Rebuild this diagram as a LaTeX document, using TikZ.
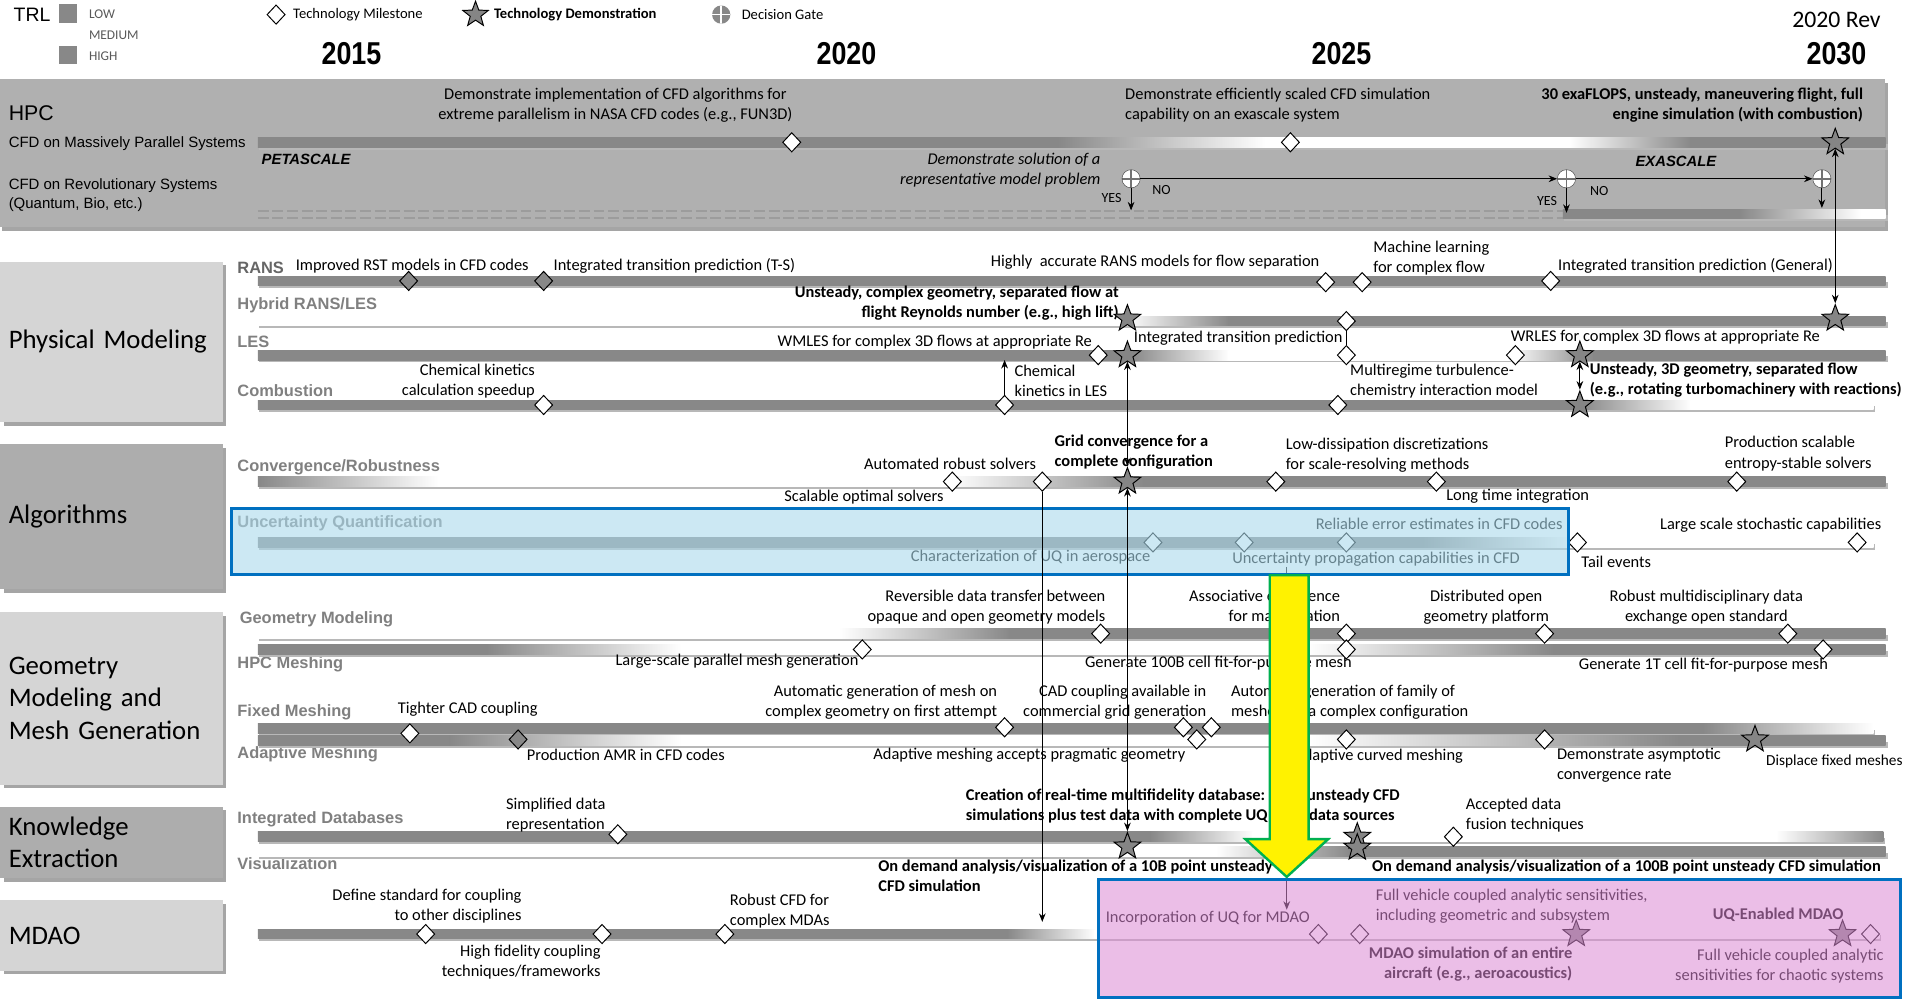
\documentclass[tikz,border=0pt]{standalone}
\usepackage{fontspec}
\setmainfont{Carlito}
\newfontfamily\arialfont{Liberation Sans}
\newfontfamily\yearfont[FakeStretch=0.85]{Liberation Sans}
\usetikzlibrary{shapes.geometric,shadows,arrows.meta,positioning}

\definecolor{bargray}{HTML}{888888}
\definecolor{hpcgray}{HTML}{B0B0B0}
\definecolor{catlight}{HTML}{D5D5D5}
\definecolor{catdark}{HTML}{ADADAD}
\definecolor{rowgray}{HTML}{808080}
\definecolor{stargray}{HTML}{858585}
\definecolor{dashgray}{HTML}{9C9C9C}
\definecolor{uqfill}{RGB}{170,217,235}
\definecolor{mdaofill}{RGB}{219,137,213}
\definecolor{frameblue}{HTML}{0070C0}
\definecolor{arrowgreen}{HTML}{00B050}

% track bar: y, x start, x end, segments x1/x2/colour1/colour2
\newcommand{\trackbar}[4]{%
  \fill[black!28] (#2+1,#1+1) rectangle (#3+2,#1+6);
  \foreach \xa/\xb/\ca/\cb in {#4}
    {\shade[left color=\ca, right color=\cb] (\xa,#1-4) rectangle (\xb+0.5,#1+4);}
}

\begin{document}
\begin{tikzpicture}[x=1pt, y=-1pt,
    ms/.style={diamond, draw, fill=white, line width=0.8pt, inner sep=0pt,
               minimum width=15, minimum height=16},
    msgray/.style={ms, fill=bargray},
    demo/.style={star, star points=5, star point ratio=2.4, draw, fill=stargray,
                 line width=0.8pt, inner sep=0pt, minimum size=23},
    gate/.style={circle, draw=black!70, fill=white, inner sep=0pt, minimum size=15,
                 path picture={\draw[black!55, line width=1.3pt]
                   (path picture bounding box.north) -- (path picture bounding box.south)
                   (path picture bounding box.west) -- (path picture bounding box.east);}},
    gatekey/.style={circle, fill=bargray, inner sep=0pt, minimum size=15,
                 path picture={\draw[white, line width=1.3pt]
                   (path picture bounding box.north) -- (path picture bounding box.south)
                   (path picture bounding box.west) -- (path picture bounding box.east);}},
    catbox/.style={rectangle, anchor=north west, minimum width=183, text width=169,
                   inner xsep=7pt, align=left, font=\fontsize{22}{26.5}\selectfont,
                   drop shadow={shadow xshift=3pt, shadow yshift=-3pt, fill=black!50, opacity=0.7}},
    rowlbl/.style={anchor=west, inner sep=0pt, text=rowgray,
                   font=\arialfont\bfseries\fontsize{13.5}{16}\selectfont},
    hpcsub/.style={anchor=west, inner sep=0pt, font=\arialfont\fontsize{12.3}{15}\selectfont},
    scale lbl/.style={inner sep=0pt, font=\arialfont\bfseries\itshape\fontsize{12.2}{14}\selectfont},
    lbl/.style={inner sep=0pt, font=\fontsize{13.5}{16.5}\selectfont},
    lblb/.style={inner sep=0pt, font=\fontsize{13.5}{16.5}\selectfont\bfseries},
    lbli/.style={inner sep=0pt, font=\fontsize{13.5}{16.5}\selectfont\itshape},
    keytext/.style={inner sep=0pt, font=\fontsize{12}{14}\selectfont},
    trl/.style={anchor=west, inner sep=0pt, text=black!65, font=\fontsize{11}{13}\selectfont},
    yn/.style={inner sep=0pt, font=\fontsize{11.5}{13}\selectfont},
    year/.style={inner sep=0pt, font=\yearfont\bfseries\fontsize{26}{30}\selectfont},
    arrow/.style={->, >={Stealth[length=7pt, width=5.5pt]}, line width=0.8pt},
    darrow/.style={arrow, <->}
]
\useasboundingbox (0,0) rectangle (1568,822);
\fill[white] (0,0) rectangle (1568,822);

% Legend
\node[anchor=west, inner sep=0pt, font=\arialfont\fontsize{16}{18}\selectfont] (trltxt) at (11,12) {TRL};
\node[fill=bargray, minimum size=15, inner sep=0pt] (trllow) at (56,11) {};
\node[fill=bargray, minimum size=15, inner sep=0pt] (trlhigh) at (56,45) {};
\node[trl] (low) at (73,12) {LOW};
\node[trl] (medium) at (73,29) {MEDIUM};
\node[trl] (high) at (73,46) {HIGH};
\node[ms] (keyms) at (227,12) {};
\node[keytext, right=6pt of keyms] (keymstxt) {Technology Milestone};
\node[demo, minimum size=22] (keydemo) at (391,12) {};
\node[keytext, font=\fontsize{12}{14}\selectfont\bfseries, anchor=west] (keydemotxt) at (406,12) {Technology Demonstration};
\node[gatekey] (keygate) at (593,12) {};
\node[keytext, right=9pt of keygate] (keygatetxt) {Decision Gate};

% Years
\node[year] (y2015) at (289,44) {2015};
\node[year] (y2020) at (696,44) {2020};
\node[year] (y2025) at (1103,44) {2025};
\node[year] (y2030) at (1510,44) {2030};
\node[inner sep=0pt, font=\fontsize{19.5}{22}\selectfont] (rev) at (1510,16) {2020 Rev};

% HPC
\path[fill=hpcgray, drop shadow={shadow xshift=2pt, shadow yshift=-3pt, fill=black!50, opacity=0.7}]
    (0,65) rectangle (1550,187);
\node[anchor=west, inner sep=0pt, font=\arialfont\fontsize{17.5}{20}\selectfont] (hpclbl) at (7,93) {HPC};
\node[hpcsub] (mpplbl) at (7,118) {CFD on Massively Parallel Systems};
\node[hpcsub, align=left] (revlbl) at (7,160.5) {CFD on Revolutionary Systems\\(Quantum, Bio, etc.)};
\trackbar{117}{212}{1550}{212/870/bargray/bargray, 870/1040/bargray/white, 1040/1290/white/white,
    1290/1390/white/bargray, 1390/1550/bargray/bargray}
\draw[dashgray, line width=1.6pt, dash pattern=on 9pt off 3pt]
    (212,173.5) -- (1285,173.5) (212,179) -- (1285,179);
\trackbar{176}{1285}{1550}{1285/1430/bargray/bargray, 1430/1530/bargray/white, 1530/1550/white/white}
\node[scale lbl, anchor=west] (peta) at (215,131) {PETASCALE};
\node[scale lbl] (exa) at (1378,133) {EXASCALE};
\node[lbl, align=center] (hpcAtxt) at (506,86.5)
    {Demonstrate implementation of CFD algorithms for\\extreme parallelism in NASA CFD codes (e.g., FUN3D)};
\node[lbl, anchor=west, align=left] (hpcBtxt) at (925,86.5)
    {Demonstrate efficiently scaled CFD simulation\\capability on an exascale system};
\node[lblb, anchor=east, align=right] (hpcCtxt) at (1532,86.5)
    {30 exaFLOPS, unsteady, maneuvering flight, full\\engine simulation (with combustion)};
\node[lbli, anchor=east, align=right] (gatetxt) at (905,140)
    {Demonstrate solution of a\\representative model problem};
\node[ms] (hpcA) at (651,117) {};
\node[ms] (hpcB) at (1061,117) {};
\node[demo] (hpcC) at (1509,117) {};
\node[gate] (gate1) at (930,147) {};
\node[gate] (gate2) at (1288,147) {};
\node[gate] (gate3) at (1498,147) {};
\coordinate (yes1) at (930,173);
\coordinate (yes2) at (1288,175);
\coordinate (yes3) at (1498,171);
\draw[arrow] (gate1) -- (yes1);
\draw[arrow] (gate2) -- (yes2);
\draw[arrow] (gate3) -- (yes3);
\draw[arrow] (gate1) -- (gate2);
\draw[arrow] (gate2) -- (gate3);
\node[yn] (yes1txt) at (914,163) {YES};
\node[yn] (no1txt) at (955,156) {NO};
\node[yn] (yes2txt) at (1272,165) {YES};
\node[yn] (no2txt) at (1315,157) {NO};

% Categories
\node[catbox, fill=catlight, minimum height=132] (physcat) at (0,215) {Physical Modeling};
\node[catbox, fill=catdark, minimum height=119] (algcat) at (0,365) {Algorithms};
\node[catbox, fill=catlight, minimum height=142] (geocat) at (0,503) {Geometry\\Modeling and\\Mesh Generation};
\node[catbox, fill=catdark, minimum height=59] (kecat) at (0,663) {Knowledge\\Extraction};
\node[catbox, fill=catlight, minimum height=58] (mdaocat) at (0,740) {MDAO};

% Row labels
\node[rowlbl, text=black!60] (ransrow) at (195,220) {RANS};
\node[rowlbl] (hybrow) at (195,251) {Hybrid RANS/LES};
\node[rowlbl] (lesrow) at (195,281) {LES};
\node[rowlbl] (combrow) at (195,321) {Combustion};
\node[rowlbl] (convrow) at (195,384) {Convergence/Robustness};
\node[rowlbl] (uqrow) at (195,430) {Uncertainty Quantification};
\node[rowlbl] (georow) at (197,509) {Geometry Modeling};
\node[rowlbl] (hpcmrow) at (195,546) {HPC Meshing};
\node[rowlbl] (fixrow) at (195,586) {Fixed Meshing};
\node[rowlbl] (adarow) at (195,620) {Adaptive Meshing};
\node[rowlbl] (dbrow) at (195,674) {Integrated Databases};
\node[rowlbl] (visrow) at (195,710) {Visualization};

% Track bars
\trackbar{231}{212}{1550}{212/1550/bargray/bargray}
\trackbar{264}{212}{1550}{212/925/white/white, 925/1010/white/bargray, 1010/1550/bargray/bargray}
\trackbar{292}{212}{1550}{212/930/bargray/bargray, 930/1010/bargray/white, 1010/1240/white/white,
    1240/1310/white/bargray, 1310/1550/bargray/bargray}
\trackbar{333}{212}{1540}{212/1300/bargray/bargray, 1300/1390/bargray/white, 1390/1540/white/white}
\trackbar{396}{212}{1550}{212/360/bargray/white, 360/780/white/white, 780/940/white/bargray,
    940/1550/bargray/bargray}
\trackbar{446}{212}{1540}{212/1170/bargray/bargray, 1170/1290/bargray/white, 1290/1540/white/white}
\trackbar{521}{212}{1550}{212/690/white/white, 690/830/white/bargray, 830/1550/bargray/bargray}
\trackbar{534}{212}{1550}{212/400/bargray/bargray, 400/560/bargray/white, 560/1075/white/white,
    1075/1277/white/bargray, 1277/1550/bargray/bargray}
\trackbar{599}{212}{1540}{212/1400/bargray/bargray, 1400/1540/bargray/white}
\trackbar{609}{212}{1550}{212/370/bargray/bargray, 370/560/bargray/white, 560/1075/white/white,
    1075/1380/white/bargray, 1380/1550/bargray/bargray}
\trackbar{688}{212}{1548}{212/946/bargray/bargray, 946/1030/bargray/white, 1030/1460/white/white,
    1460/1548/white/bargray}
\trackbar{700}{212}{1550}{212/1000/white/white, 1000/1110/white/bargray, 1110/1550/bargray/bargray}
\trackbar{768}{212}{1545}{212/828/bargray/bargray, 828/900/bargray/white, 900/1545/white/white}

% Physical modeling
\node[lbl, anchor=west] (ransAtxt) at (243,219) {Improved RST models in CFD codes};
\node[lbl, anchor=west] (ransBtxt) at (455,219) {Integrated transition prediction (T-S)};
\node[lbl, anchor=east] (ransCtxt) at (1085,216) {Highly\ \ accurate RANS models for flow separation};
\node[lbl, anchor=west, align=left] (ransDtxt) at (1129,212) {Machine learning\\for complex flow};
\node[lbl, anchor=west] (ransEtxt) at (1281,219) {Integrated transition prediction (General)};
\node[lblb, anchor=east, align=right] (hybAtxt) at (920,249)
    {Unsteady, complex geometry, separated flow at\\flight Reynolds number (e.g., high lift)};
\node[lbl, anchor=east] (lesAtxt) at (898,281) {WMLES for complex 3D flows at appropriate Re};
\node[lbl, anchor=east] (lesCtxt) at (1104,278) {Integrated transition prediction};
\node[lbl, anchor=west] (lesDtxt) at (1242,277) {WRLES for complex 3D flows at appropriate Re};
\node[lblb, anchor=west, align=left] (lesEtxt) at (1307,312.5)
    {Unsteady, 3D geometry, separated flow\\(e.g., rotating turbomachinery with reactions)};
\node[lbl, anchor=east, align=right] (combAtxt) at (440,313.5) {Chemical kinetics\\calculation speedup};
\node[lbl, anchor=west, align=left] (combBtxt) at (834,313) {Chemical\\kinetics in LES};
\node[lbl, anchor=west, align=left] (combCtxt) at (1110,313) {Multiregime turbulence-\\chemistry interaction model};

\node[msgray] (ransA) at (336,231) {};
\node[msgray] (ransB) at (447,231) {};
\node[ms] (ransC) at (1090,232) {};
\node[ms] (ransD) at (1120,232) {};
\node[ms] (ransE) at (1275,231) {};
\node[demo] (hybA) at (927,262) {};
\node[ms] (hybB) at (1107,264) {};
\node[demo] (hybC) at (1509,262) {};
\node[ms] (lesA) at (903,292) {};
\node[demo] (lesB) at (927,292) {};
\node[ms] (lesC) at (1107,292) {};
\node[ms] (lesD) at (1246,292) {};
\node[demo] (lesE) at (1299,292) {};
\node[ms] (combA) at (447,333) {};
\node[ms] (combB) at (826,333) {};
\node[ms] (combC) at (1100,333) {};
\node[demo] (combD) at (1299,333) {};
\coordinate (lesbar) at (826,296);

\draw[darrow] (hpcC) -- (hybC);
\draw[line width=0.8pt] (hybB) -- (lesC);
\draw[darrow] (lesE) -- (combD);
\draw[arrow] (combB) -- (lesbar);

% Algorithms
\node[lbl, anchor=east] (convAtxt) at (776,409) {Scalable optimal solvers};
\node[lbl, anchor=east] (convBtxt) at (852,381) {Automated robust solvers};
\node[lblb, anchor=west, align=left] (convCtxt) at (867,372) {Grid convergence for a\\complete configuration};
\node[lbl, anchor=west, align=left] (convDtxt) at (1057,374.5)
    {Low-dissipation discretizations\\for scale-resolving methods};
\node[lbl, anchor=west] (convEtxt) at (1189,408) {Long time integration};
\node[lbl, anchor=west, align=left] (convFtxt) at (1418,373) {Production scalable\\entropy-stable solvers};
\node[lbl, anchor=east] (uqAtxt) at (946,458) {Characterization of UQ in aerospace};
\node[lbl, anchor=west] (uqBtxt) at (1013,460) {Uncertainty propagation capabilities in CFD};
\node[lbl, anchor=east] (uqCtxt) at (1285,431) {Reliable error estimates in CFD codes};
\node[lbl, anchor=west] (uqDtxt) at (1300,462) {Tail events};
\node[lbl, anchor=east] (uqEtxt) at (1547,432) {Large scale stochastic capabilities};

\node[ms] (convA) at (783,396) {};
\node[ms] (convB) at (857,396) {};
\node[demo] (convC) at (927,396) {};
\node[ms] (convD) at (1049,396) {};
\node[ms] (convE) at (1181,396) {};
\node[ms] (convF) at (1428,396) {};
\node[ms] (uqA) at (948,446) {};
\node[ms] (uqB) at (1023,446) {};
\node[ms] (uqC) at (1107,446) {};
\node[ms] (uqD) at (1297,446) {};
\node[ms] (uqE) at (1527,446) {};

\draw[darrow] (lesB) -- (convC);

% Geometry modeling and mesh generation
\node[lbl, anchor=east, align=right] (geoAtxt) at (909,499.5)
    {Reversible data transfer between\\opaque and open geometry models};
\node[lbl, anchor=east, align=right] (geoBtxt) at (1102,499.5) {Associative experience\\for manipulation};
\node[lbl, align=center] (geoCtxt) at (1222,499.5) {Distributed open\\geometry platform};
\node[lbl, align=center] (geoDtxt) at (1403,499.5) {Robust multidisciplinary data\\exchange open standard};
\node[lbl, anchor=east] (hpcmAtxt) at (706,544) {Large-scale parallel mesh generation};
\node[lbl, anchor=west] (hpcmBtxt) at (892,545) {Generate 100B cell fit-for-purpose mesh};
\node[lbl, anchor=west] (hpcmCtxt) at (1298,547) {Generate 1T cell fit-for-purpose mesh};
\node[lbl, anchor=west] (fixAtxt) at (327,583) {Tighter CAD coupling};
\node[lbl, anchor=east, align=right] (fixBtxt) at (820,577.5)
    {Automatic generation of mesh on\\complex geometry on first attempt};
\node[lbl, anchor=east, align=right] (fixCtxt) at (992,577.5) {CAD coupling available in\\commercial grid generation};
\node[lbl, anchor=west, align=left] (fixDtxt) at (1012,577.5)
    {Automatic generation of family of\\meshes for a complex configuration};
\node[lbl, anchor=west] (adaAtxt) at (433,621) {Production AMR in CFD codes};
\node[lbl, anchor=west] (adaBtxt) at (718,621) {Adaptive meshing accepts pragmatic geometry};
\node[lbl, anchor=east] (adaCtxt) at (1203,622) {Adaptive curved meshing};
\node[lbl, anchor=west, align=left] (adaDtxt) at (1280,629) {Demonstrate asymptotic\\convergence rate};
\node[lbl, anchor=west, font=\fontsize{12.6}{15}\selectfont] (adaEtxt) at (1452,626) {Displace fixed meshes};

\node[ms] (geoA) at (905,521) {};
\node[ms] (geoB) at (1107,521) {};
\node[ms] (geoC) at (1270,521) {};
\node[ms] (geoD) at (1470,521) {};
\node[ms] (hpcmA) at (709,534) {};
\node[ms] (hpcmB) at (1107,534) {};
\node[ms] (hpcmC) at (1499,534) {};
\node[ms] (fixA) at (337,603) {};
\node[msgray] (adaA) at (426,608) {};
\node[ms] (fixB) at (826,598) {};
\node[ms] (fixC) at (973,598) {};
\node[ms] (adaB) at (984,608) {};
\node[ms] (fixD) at (996,598) {};
\node[ms] (adaC) at (1107,608) {};
\node[ms] (adaD) at (1270,608) {};
\node[demo] (adaE) at (1443,608) {};

% Knowledge extraction
\node[lbl, anchor=west, align=left] (dbAtxt) at (416,670.5) {Simplified data\\representation};
\node[lblb, anchor=west, align=left] (dbBtxt) at (794,663)
    {Creation of real-time multifidelity database: 1000 unsteady CFD\\simulations plus test data with complete UQ of all data sources};
\node[lbl, anchor=west, align=left] (dbCtxt) at (1205,670) {Accepted data\\fusion techniques};
\node[lblb, anchor=west, align=left] (visAtxt) at (722,720)
    {On demand analysis/visualization of a 10B point unsteady\\CFD simulation};
\node[lblb, anchor=west] (visBtxt) at (1128,713)
    {On demand analysis/visualization of a 100B point unsteady CFD simulation};

\node[ms] (dbA) at (508,686) {};
\node[demo] (visA) at (927,696) {};
\node[demo] (dbB) at (1116,688) {};
\node[demo] (visB) at (1116,697) {};
\node[ms] (dbC) at (1195,688) {};

% MDAO
\node[lbl, anchor=east, align=right] (mdaoAtxt) at (429,745) {Define standard for coupling\\to other disciplines};
\node[lbl, anchor=east, align=right] (mdaoBtxt) at (494,791) {High fidelity coupling\\techniques/frameworks};
\node[lbl, anchor=west, align=left] (mdaoCtxt) at (600,749) {Robust CFD for\\complex MDAs};
\node[lbl, anchor=west] (mdaoDtxt) at (909,755) {Incorporation of UQ for MDAO};
\node[lbl, anchor=west, align=left] (mdaoEtxt) at (1131,745)
    {Full vehicle coupled analytic sensitivities,\\including geometric and subsystem};
\node[lblb, anchor=east, align=right] (mdaoFtxt) at (1293,793)
    {MDAO simulation of an entire\\aircraft (e.g., aeroacoustics)};
\node[lblb, anchor=east] (mdaoGtxt) at (1516,752) {UQ-Enabled MDAO};
\node[lbl, anchor=east, align=right] (mdaoHtxt) at (1549,794)
    {Full vehicle coupled analytic\\sensitivities for chaotic systems};

\node[ms] (mdaoA) at (350,768) {};
\node[ms] (mdaoB) at (495,768) {};
\node[ms] (mdaoC) at (596,768) {};
\node[ms] (mdaoD) at (1084,768) {};
\node[ms] (mdaoE) at (1118,768) {};
\node[demo] (mdaoF) at (1296,768) {};
\node[demo] (mdaoG) at (1515,768) {};
\node[ms] (mdaoH) at (1538,768) {};

% UQ link to MDAO
\coordinate (uqprop) at (1058,466);
\coordinate (mdaoin) at (1058,748);
\draw[arrow] (uqprop) -- (mdaoin);

% Highlight boxes
\path[fill=uqfill, fill opacity=0.6] (190,418) rectangle (1290,472);
\draw[frameblue, line width=2.5pt] (190,418) rectangle (1290,472);
\coordinate (mdaobar) at (857,758);
\draw[arrow] (convB) -- (mdaobar);
\draw[darrow] (convC) -- (visA);
\path[fill=mdaofill, fill opacity=0.55] (903,723) rectangle (1563,820);
\draw[frameblue, line width=2.5pt] (903,723) rectangle (1563,820);

% Yellow arrow
\fill[yellow, draw=arrowgreen, line width=2pt]
    (1044,473) -- (1076,473) -- (1076,690) -- (1092,690) -- (1058,721)
    -- (1024,690) -- (1044,690) -- cycle;

\end{tikzpicture}
\end{document}
